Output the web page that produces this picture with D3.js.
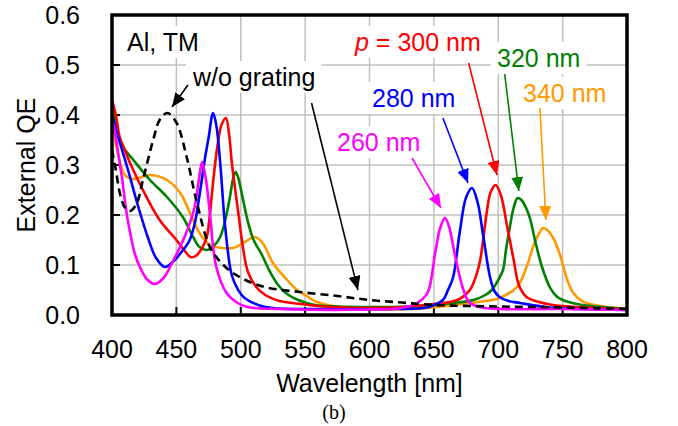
<!DOCTYPE html>
<html><head>
<meta charset="utf-8">
<script src="https://d3js.org/d3.v7.min.js"></script>
<style>
  body { margin: 0; background: #fff; }
  text { font-family: "Liberation Sans", Arial, sans-serif; }
  line.grid { stroke: #c0c0c0; stroke-width: 1.5px; }
</style>
</head>
<body>
<svg id="chart" width="678" height="426"></svg>
<script>
// ---- data: [wavelength nm, external QE] ----
const woGrating = [[400,0.33],[403,0.29],[406,0.245],[410,0.215],[414,0.208],[419,0.222],[424,0.27],[432,0.35],[437,0.39],[443,0.404],[450,0.385],[458,0.316],[466,0.224],[476,0.136],[485,0.104],[494,0.084],[507,0.066],[520,0.055],[546,0.046],[575,0.038],[600,0.03],[625,0.025],[650,0.02],[700,0.017],[750,0.015],[800,0.012]];

const p260 = [[400,0.39],[402,0.37],[405,0.32],[408,0.27],[411,0.21],[414,0.165],[418,0.12],[422,0.094],[427,0.072],[433,0.062],[440,0.074],[447,0.106],[457,0.16],[464,0.214],[468,0.28],[470,0.306],[473,0.27],[476,0.204],[481,0.096],[489,0.044],[497,0.025],[505,0.016],[530,0.012],[600,0.011],[625,0.014],[637,0.024],[645,0.044],[651,0.124],[655,0.175],[658.6,0.194],[662,0.175],[666,0.124],[673,0.05],[678,0.024],[690,0.014],[750,0.012],[800,0.01]];

const p280 = [[400,0.4],[405,0.354],[412,0.294],[420,0.22],[428,0.154],[434,0.115],[441,0.096],[448,0.108],[454,0.126],[460,0.148],[464,0.18],[468,0.24],[472,0.31],[475,0.354],[478.5,0.404],[481,0.38],[484,0.306],[488,0.174],[493,0.08],[498,0.05],[503,0.034],[519,0.016],[560,0.012],[620,0.012],[645,0.015],[652,0.022],[657,0.03],[661,0.05],[665,0.076],[670,0.164],[675,0.235],[679.6,0.254],[684,0.225],[688,0.164],[693.6,0.076],[697,0.048],[701,0.036],[708,0.028],[717,0.024],[740,0.015],[800,0.01]];

const p300 = [[400,0.43],[403,0.4],[406,0.356],[410,0.33],[414,0.304],[424,0.25],[437,0.19],[450,0.15],[456,0.13],[461,0.116],[465,0.118],[470,0.134],[473.6,0.156],[476,0.2],[478.7,0.27],[482,0.34],[485,0.38],[488.5,0.394],[491,0.36],[493,0.306],[498,0.206],[502,0.13],[505.6,0.086],[512,0.056],[519,0.04],[530,0.028],[540,0.024],[570,0.016],[620,0.015],[650,0.022],[662.5,0.026],[670,0.032],[678,0.05],[683,0.08],[686,0.11],[691,0.204],[694,0.245],[698,0.26],[702,0.24],[707,0.176],[712,0.11],[716,0.06],[722,0.036],[738,0.022],[760,0.016],[800,0.012]];

const p320 = [[400,0.42],[404,0.37],[408.5,0.336],[416,0.312],[429.5,0.27],[442.7,0.236],[455,0.196],[463,0.156],[468,0.136],[473.5,0.13],[479,0.138],[484,0.156],[488,0.19],[491.6,0.236],[494,0.272],[496,0.286],[498,0.275],[501,0.24],[505.6,0.186],[510,0.15],[516.5,0.12],[522,0.09],[529,0.06],[536,0.042],[544.5,0.03],[557.7,0.02],[600,0.016],[640,0.018],[665,0.024],[680.6,0.03],[690,0.04],[695,0.05],[700,0.07],[703.7,0.09],[706,0.13],[709,0.176],[712,0.215],[715,0.234],[718,0.23],[722,0.212],[725,0.19],[728.5,0.15],[734,0.096],[740,0.056],[745,0.038],[750,0.03],[761,0.022],[780,0.016],[800,0.013]];

const p340 = [[400,0.394],[404,0.33],[410,0.28],[416,0.272],[429.5,0.28],[442.7,0.27],[453,0.244],[460.6,0.204],[468,0.164],[476,0.14],[486,0.134],[494,0.134],[502,0.144],[511,0.156],[517,0.144],[525,0.104],[536,0.07],[543.7,0.05],[550,0.04],[559,0.026],[571.6,0.018],[600,0.012],[640,0.013],[652,0.016],[678,0.024],[695,0.03],[701,0.034],[714.6,0.056],[722,0.096],[727,0.136],[731,0.16],[735,0.174],[738,0.17],[742.5,0.155],[748,0.12],[753,0.075],[758,0.045],[765,0.028],[775,0.02],[800,0.012]];

const xTicks = [400,450,500,550,600,650,700,750,800];
const yTicks = [0,0.1,0.2,0.3,0.4,0.5,0.6];

const series = [
  {data: p340, color: "#ff9900"},
  {data: p320, color: "#008000"},
  {data: p300, color: "#ff0000"},
  {data: p280, color: "#0000ff"},
  {data: p260, color: "#ff00ff"},
  {data: woGrating, color: "#000000", dash: "8,5"}
];

// labels: pixel position of text, arrow from/to in data units
const labels = [
  {text: "w/o grating", color: "#000", x: 193, y: 86, arrows: [[[459,0.46],[446.6,0.416]], [[555,0.424],[591,0.05]]]},
  {text: "260 nm", color: "#ff00ff", x: 337, y: 151, arrows: [[[633,0.314],[655.5,0.214]]]},
  {text: "280 nm", color: "#0000ff", x: 372, y: 107, arrows: [[[657,0.394],[676.5,0.264]]]},
  {text: " = 300 nm", italic: "p", color: "#ff0000", x: 355, y: 51, arrows: [[[677,0.504],[699,0.28]]]},
  {text: "320 nm", color: "#008000", x: 497, y: 67, arrows: [[[705,0.482],[716,0.248]]]},
  {text: "340 nm", color: "#ff9900", x: 523, y: 102, arrows: [[[732.4,0.414],[737,0.19]]]},
  {text: "Al, TM", color: "#000", x: 127, y: 51, arrows: []}
];

const svg = d3.select("#chart");
const pLeft = 112, pRight = 627, pTop = 15, pBottom = 315;

const x = d3.scaleLinear().domain([400,800]).range([pLeft,pRight]);
const y = d3.scaleLinear().domain([0,0.6]).range([pBottom,pTop]);

// grid
svg.append("g").selectAll("line").data(xTicks.slice(1,-1)).join("line")
  .attr("class","grid").attr("x1",d=>x(d)).attr("x2",d=>x(d)).attr("y1",pTop).attr("y2",pBottom);
svg.append("g").selectAll("line").data(yTicks.slice(1,-1)).join("line")
  .attr("class","grid").attr("y1",d=>y(d)).attr("y2",d=>y(d)).attr("x1",pLeft).attr("x2",pRight);

// inward ticks
svg.append("g").selectAll("line").data(xTicks).join("line")
  .attr("x1",d=>x(d)).attr("x2",d=>x(d)).attr("y1",pBottom).attr("y2",pBottom-8)
  .attr("stroke","#000").attr("stroke-width",2);
svg.append("g").selectAll("line").data(yTicks).join("line")
  .attr("y1",d=>y(d)).attr("y2",d=>y(d)).attr("x1",pLeft).attr("x2",pLeft+8)
  .attr("stroke","#000").attr("stroke-width",2);

// white boxes behind labels (drawn before curves)
const boxLayer = svg.append("g");

// curves
const line = d3.line().x(d=>x(d[0])).y(d=>y(d[1])).curve(d3.curveCatmullRom.alpha(0.5));
svg.append("g").selectAll("path").data(series).join("path")
  .attr("d", d => line(d.data))
  .attr("fill","none")
  .attr("stroke", d => d.color)
  .attr("stroke-width", 2.6)
  .attr("stroke-dasharray", d => d.dash || null);

// frame
svg.append("rect").attr("x",pLeft).attr("y",pTop).attr("width",pRight-pLeft).attr("height",pBottom-pTop)
  .attr("fill","none").attr("stroke","#000").attr("stroke-width",3.5);

// arrow markers
const defs = svg.append("defs");
labels.forEach((l,i) => {
  defs.append("marker").attr("id","ah"+i)
    .attr("markerUnits","userSpaceOnUse").attr("markerWidth",14).attr("markerHeight",12)
    .attr("viewBox","0 0 14 12").attr("refX",14).attr("refY",6).attr("orient","auto")
    .append("path").attr("d","M0,0 L14,6 L0,12 Z").attr("fill",l.color);
});

// label text + arrows
labels.forEach((l,i) => {
  const t = svg.append("text").attr("x",l.x).attr("y",l.y)
    .attr("font-size",25).attr("fill",l.color);
  if (l.italic) t.append("tspan").attr("font-style","italic").text(l.italic);
  t.append("tspan").text(l.text);
  const b = t.node().getBBox();
  boxLayer.append("rect").attr("x",b.x-6).attr("y",b.y-2).attr("width",b.width+12).attr("height",b.height+4)
    .attr("fill","#fff");
  l.arrows.forEach(a => {
    svg.append("line")
      .attr("x1",x(a[0][0])).attr("y1",y(a[0][1]))
      .attr("x2",x(a[1][0])).attr("y2",y(a[1][1]))
      .attr("stroke",l.color).attr("stroke-width",1.6)
      .attr("marker-end","url(#ah"+i+")");
  });
});

// tick labels
svg.append("g").selectAll("text").data(xTicks).join("text")
  .attr("x",d=>x(d)).attr("y",358).attr("text-anchor","middle").attr("font-size",25)
  .text(d=>d);
svg.append("g").selectAll("text").data(yTicks).join("text")
  .attr("x",80).attr("y",d=>y(d)+9).attr("text-anchor","end").attr("font-size",25)
  .text(d=>d.toFixed(1));

// axis titles
svg.append("text").attr("x",(pLeft+pRight)/2).attr("y",392).attr("text-anchor","middle")
  .attr("font-size",25).text("Wavelength [nm]");
svg.append("text").attr("transform",`translate(35,${(pTop+pBottom)/2}) rotate(-90)`)
  .attr("text-anchor","middle").attr("font-size",25).text("External QE");

svg.append("text").attr("x",334).attr("y",419).attr("text-anchor","middle")
  .style("font-family","'Liberation Serif', 'Times New Roman', serif").attr("font-size",20).text("(b)");
</script>
</body></html>
